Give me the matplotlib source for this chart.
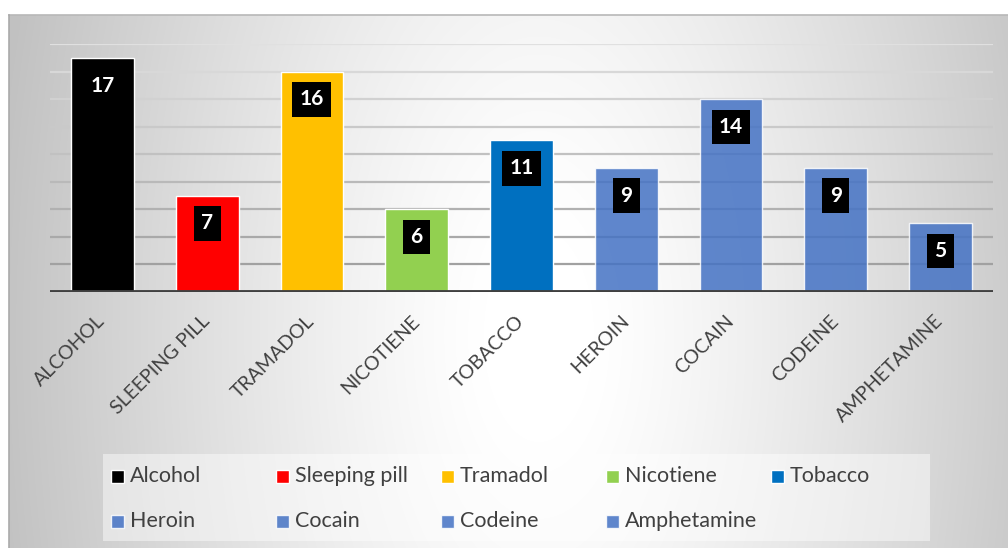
import numpy as np
import matplotlib
matplotlib.use('Agg')
import matplotlib.pyplot as plt
from matplotlib.patches import Rectangle

plt.rcParams['font.family'] = ['Lato', 'DejaVu Sans']

# data
categories = ['ALCOHOL', 'SLEEPING PILL', 'TRAMADOL', 'NICOTIENE', 'TOBACCO',
              'HEROIN', 'COCAIN', 'CODEINE', 'AMPHETAMINE']
legend_names = ['Alcohol', 'Sleeping pill', 'Tramadol', 'Nicotiene', 'Tobacco',
                'Heroin', 'Cocain', 'Codeine', 'Amphetamine']
values = [17, 7, 16, 6, 11, 9, 14, 9, 5]
colors = ['#000000', '#FF0000', '#FFC000', '#92D050', '#0070C0',
          '#4472C4', '#4472C4', '#4472C4', '#4472C4']
alphas = [1, 1, 1, 1, 1, 0.85, 0.85, 0.85, 0.85]

W, H = 1008, 548
fig = plt.figure(figsize=(W / 100, H / 100), dpi=100)


def fx(px):
    return px / W


def fy(py):
    return 1 - py / H


# radial gradient background of the chart area
bx0, by0, bx1, by1 = 9, 15, 1008, 548
bg = fig.add_axes([fx(bx0), fy(by1), (bx1 - bx0) / W, (by1 - by0) / H], zorder=0)
gh, gw = by1 - by0, bx1 - bx0
yy, xx = np.mgrid[0:gh, 0:gw]
dx = (xx / gw - 0.53) / 0.55
dy = (yy / gh - 0.6) / 2.0
d = np.clip(np.sqrt(dx ** 2 + dy ** 2), 0, 1)
d = np.clip((d - 0.1) / 0.9, 0, 1)
g = (255 - 62 * d ** 1.2) / 255
bg.imshow(np.dstack([g, g, g]), aspect='auto', extent=[0, 1, 0, 1])
bg.set_xlim(0, 1)
bg.set_ylim(0, 1)
bg.axis('off')
bg.plot([0, 1], [1, 1], color='#b8b8b8', lw=1.2, transform=bg.transAxes, clip_on=False)
bg.plot([0, 0], [0, 1], color='#aaaaaa', lw=1.2, transform=bg.transAxes, clip_on=False)

# plot area
px0, py0, px1, py1 = 50, 44, 993, 292
ax = fig.add_axes([fx(px0), fy(py1), (px1 - px0) / W, (py1 - py0) / H], zorder=1)
ax.patch.set_alpha(0)
x = np.arange(len(categories))
ax.set_xlim(-0.5, len(categories) - 0.5)
ax.set_ylim(0, 18)

# gridlines, darker near the bottom
for lvl in range(2, 19, 2):
    t = lvl / 18
    c = 0.60 + 0.28 * t
    ax.axhline(lvl, color=(c, c, c), lw=1.6, zorder=1)

for i in range(len(categories)):
    ax.bar(x[i], values[i], width=0.6, color=colors[i], alpha=alphas[i],
           edgecolor=(1, 1, 1, 0.45), linewidth=1, zorder=2)
    ax.annotate(str(values[i]), (x[i], values[i]), xytext=(0, -20),
                textcoords='offset points', ha='center', va='center',
                color='white', fontsize=15, fontweight='bold', zorder=4,
                bbox=dict(boxstyle='square,pad=0.35', fc='black', ec='none'))

ax.axhline(0, color='#404040', lw=3.5, zorder=3)

for s in ax.spines.values():
    s.set_visible(False)
ax.set_yticks([])
ax.set_xticks(x)
ax.set_xticklabels(categories, rotation=45, ha='right', va='center',
                   rotation_mode='anchor', fontsize=14, color='#404040')
ax.tick_params(axis='x', length=0, pad=19)

# legend: 5 fixed-width columns, 2 rows (Excel style)
fig.add_artist(Rectangle((fx(103), fy(541)), (930 - 103) / W, (541 - 454) / H,
                         transform=fig.transFigure, fc=(1, 1, 1, 0.45), ec='none', zorder=5))
ncol = 5
for i, name in enumerate(legend_names):
    col, row = i % ncol, i // ncol
    lx = 111 + 165 * col
    ly = 476 + 45 * row
    fig.add_artist(Rectangle((fx(lx), fy(ly + 6.5)), 13 / W, 13 / H,
                             transform=fig.transFigure, fc=colors[i], alpha=alphas[i],
                             ec=(1, 1, 1, 0.5), lw=1, zorder=6))
    fig.text(fx(lx + 19), fy(ly), name, fontsize=15.5, color='#404040',
             ha='left', va='center', zorder=6)

fig.savefig('out.png', dpi=100)
